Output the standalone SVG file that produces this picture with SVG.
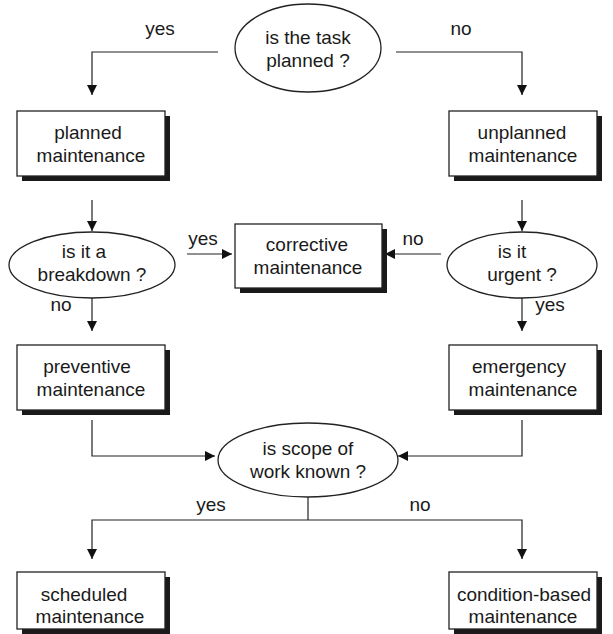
<svg xmlns="http://www.w3.org/2000/svg" width="613" height="634" viewBox="0 0 613 634">
<defs>
<style>
.box{fill:#fff;stroke:#222;stroke-width:1.3}
.sh{fill:#1a1a1a}
.el{fill:#fff;stroke:#222;stroke-width:1.3}
.t{font-family:"Liberation Sans",Arial,sans-serif;font-size:19px;fill:#1a1a1a;text-anchor:middle}
.ln{fill:none;stroke:#222;stroke-width:1.2}
</style>
<marker id="ah" viewBox="0 0 10 10" refX="10" refY="5" markerWidth="10" markerHeight="10" markerUnits="userSpaceOnUse" orient="auto">
<path d="M0,0 L10,5 L0,10 Z" fill="#111"/>
</marker>
</defs>
<rect width="613" height="634" fill="#fff"/>

<g id="connectors">
<path class="ln" d="M218,52 H92 V95" marker-end="url(#ah)"/>
<path class="ln" d="M396,52 H522 V95" marker-end="url(#ah)"/>
<path class="ln" d="M92,200 V231" marker-end="url(#ah)"/>
<path class="ln" d="M522,200 V231" marker-end="url(#ah)"/>
<path class="ln" d="M187,254 H232" marker-end="url(#ah)"/>
<path class="ln" d="M441,254 H385" marker-end="url(#ah)"/>
<path class="ln" d="M92,298 V331" marker-end="url(#ah)"/>
<path class="ln" d="M522,298 V331" marker-end="url(#ah)"/>
<path class="ln" d="M92,420 V456 H215" marker-end="url(#ah)"/>
<path class="ln" d="M522,420 V456 H398" marker-end="url(#ah)"/>
<path class="ln" d="M308,497 V520"/>
<path class="ln" d="M308,520 H92 V559" marker-end="url(#ah)"/>
<path class="ln" d="M308,520 H522 V559" marker-end="url(#ah)"/>
<text class="t" x="160" y="35">yes</text>
<text class="t" x="461" y="35">no</text>
<text class="t" x="203" y="245">yes</text>
<text class="t" x="413" y="245">no</text>
<text class="t" x="61" y="311">no</text>
<text class="t" x="550" y="311">yes</text>
<text class="t" x="211" y="511">yes</text>
<text class="t" x="420" y="511">no</text>
</g>

<g id="q-planned">
<ellipse class="el" cx="308" cy="48" rx="73" ry="44"/>
<text class="t" x="308" y="44">is the task</text>
<text class="t" x="308" y="67">planned ?</text>
</g>

<g id="planned">
<rect class="sh" x="22" y="116" width="148" height="65"/>
<rect class="box" x="17" y="111" width="148" height="65"/>
<text class="t" x="88" y="139">planned</text>
<text class="t" x="91" y="162">maintenance</text>
</g>

<g id="unplanned">
<rect class="sh" x="454" y="116" width="148" height="65"/>
<rect class="box" x="449" y="111" width="148" height="65"/>
<text class="t" x="522" y="139">unplanned</text>
<text class="t" x="523" y="162">maintenance</text>
</g>

<g id="q-breakdown">
<ellipse class="el" cx="92" cy="265" rx="83" ry="33"/>
<text class="t" x="84" y="258">is it a</text>
<text class="t" x="92" y="281">breakdown ?</text>
</g>

<g id="corrective">
<rect class="sh" x="240" y="229" width="147" height="64"/>
<rect class="box" x="235" y="224" width="147" height="64"/>
<text class="t" x="307" y="251">corrective</text>
<text class="t" x="308" y="274">maintenance</text>
</g>

<g id="q-urgent">
<ellipse class="el" cx="522" cy="265" rx="75" ry="33"/>
<text class="t" x="512" y="258">is it</text>
<text class="t" x="522" y="281">urgent ?</text>
</g>

<g id="preventive">
<rect class="sh" x="22" y="350" width="148" height="65"/>
<rect class="box" x="17" y="345" width="148" height="65"/>
<text class="t" x="87" y="373">preventive</text>
<text class="t" x="91" y="396">maintenance</text>
</g>

<g id="emergency">
<rect class="sh" x="454" y="350" width="148" height="65"/>
<rect class="box" x="449" y="345" width="148" height="65"/>
<text class="t" x="519" y="373">emergency</text>
<text class="t" x="523" y="396">maintenance</text>
</g>

<g id="q-scope">
<ellipse class="el" cx="308" cy="460" rx="90" ry="37"/>
<text class="t" x="308" y="455">is scope of</text>
<text class="t" x="308" y="478">work known ?</text>
</g>

<g id="scheduled">
<rect class="sh" x="22" y="577" width="148" height="57"/>
<rect class="box" x="17" y="572" width="148" height="57"/>
<text class="t" x="84" y="601">scheduled</text>
<text class="t" x="90" y="623">maintenance</text>
</g>

<g id="condition">
<rect class="sh" x="454" y="577" width="148" height="57"/>
<rect class="box" x="449" y="572" width="148" height="57"/>
<text class="t" x="524" y="601">condition-based</text>
<text class="t" x="523" y="623">maintenance</text>
</g>
</svg>
